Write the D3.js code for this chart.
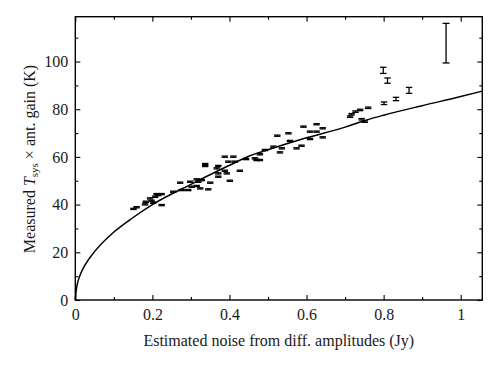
<!DOCTYPE html>
<html><head><meta charset="utf-8">
<script src="https://cdn.jsdelivr.net/npm/d3@7"></script>
<style>body{margin:0;background:#fff}svg{display:block}</style>
</head><body>
<svg id="c" width="500" height="368"></svg>
<script>
// data
const ptX = [0.151,0.159,0.181,0.183,0.194,0.198,0.202,0.207,0.215,0.211,0.224,0.224,0.254,0.272,0.276,0.293,0.298,0.302,0.315,0.315,0.319,0.324,0.328,0.337,0.337,0.345,0.35,0.371,0.367,0.371,0.371,0.388,0.388,0.393,0.397,0.401,0.41,0.414,0.427,0.443,0.466,0.470,0.479,0.479,0.492,0.514,0.524,0.531,0.536,0.553,0.557,0.574,0.587,0.592,0.609,0.609,0.626,0.626,0.642,0.642,0.713,0.717,0.727,0.739,0.743,0.751,0.76,0.801,0.799,0.81,0.832,0.866,0.962];
const ptY = [38.2,38.9,40.1,41.2,42.6,41.6,40.8,43.3,44.0,44.4,44.4,39.8,45.4,49.2,46.1,46.1,49.6,47.5,47.8,50.6,49.6,46.8,50.3,57.0,56.2,46.4,49.2,56.2,55.2,53.1,51.7,60.1,54.2,53.1,58.0,50.0,60.1,58.0,54.2,59.1,59.4,58.7,61.1,58.7,62.9,64.3,68.9,61.9,63.6,69.9,66.7,63.6,64.7,72.7,70.6,67.5,73.7,70.6,72.0,68.2,76.9,77.9,79.0,79.7,75.8,74.8,80.6,82.5,96.3,92.0,84.3,87.9,107.7];
const ptErr = [0.25,0.25,0.25,0.25,0.25,0.25,0.25,0.25,0.25,0.25,0.25,0.25,0.25,0.25,0.25,0.25,0.25,0.25,0.25,0.25,0.25,0.25,0.25,0.25,0.25,0.25,0.25,0.25,0.25,0.25,0.25,0.25,0.25,0.25,0.25,0.25,0.25,0.25,0.25,0.25,0.25,0.25,0.25,0.25,0.25,0.25,0.25,0.25,0.25,0.25,0.25,0.25,0.25,0.25,0.25,0.25,0.25,0.25,0.25,0.25,0.3,0.3,0.3,0.3,0.3,0.3,0.3,0.55,1.3,1.1,0.7,1.25,8.3];
const fitX = [0,0.002,0.005,0.0125,0.025,0.05,0.1,0.15,0.2,0.3,0.4,0.453,0.5,0.6,0.7,0.756,0.8,0.9,1.0,1.056];
const fitY = [0,3.5,6.5,10.5,14.6,20.3,28.5,34.6,40.0,48.5,56.5,60.5,63.0,68.0,72.5,75.5,77.5,81.5,85.3,87.6];
const xTicks = [0,0.2,0.4,0.6,0.8,1];
const xMinor = [0.1,0.3,0.5,0.7,0.9];
const yTicks = [0,20,40,60,80,100];
const yMinor = [10,30,50,70,90,110];
const xTitle = "Estimated noise from diff. amplitudes (Jy)";

const svg = d3.select("#c");
const x = d3.scaleLinear([0,1.056],[75.3,482.3]);
const y = d3.scaleLinear([0,118.8],[300,16.7]);
const font = "'Liberation Serif', 'DejaVu Serif', serif";
const fmt = d3.format("~g");
const fs = 16;

function styleAxis(g){
  g.select(".domain").remove();
  g.selectAll("line").attr("stroke","#000").attr("stroke-width",1.1);
  g.selectAll("text").attr("font-family",font).attr("font-size",fs).attr("fill","#1a1a1a");
}
// bottom
svg.append("g").attr("transform","translate(0,300)")
  .call(d3.axisBottom(x).tickValues(xTicks).tickFormat(fmt).tickSize(-5).tickPadding(9)).call(styleAxis);
svg.append("g").attr("transform","translate(0,300)")
  .call(d3.axisBottom(x).tickValues(xMinor).tickFormat("").tickSize(-3)).call(styleAxis);
// top
svg.append("g").attr("transform","translate(0,16.7)")
  .call(d3.axisTop(x).tickValues(xTicks).tickFormat("").tickSize(-5)).call(styleAxis);
svg.append("g").attr("transform","translate(0,16.7)")
  .call(d3.axisTop(x).tickValues(xMinor).tickFormat("").tickSize(-3)).call(styleAxis);
// left
svg.append("g").attr("transform","translate(75.3,0)")
  .call(d3.axisLeft(y).tickValues(yTicks).tickFormat(fmt).tickSize(-5).tickPadding(7)).call(styleAxis);
svg.append("g").attr("transform","translate(75.3,0)")
  .call(d3.axisLeft(y).tickValues(yMinor).tickFormat("").tickSize(-3)).call(styleAxis);
// right
svg.append("g").attr("transform","translate(482.3,0)")
  .call(d3.axisRight(y).tickValues(yTicks).tickFormat("").tickSize(-5)).call(styleAxis);
svg.append("g").attr("transform","translate(482.3,0)")
  .call(d3.axisRight(y).tickValues(yMinor).tickFormat("").tickSize(-3)).call(styleAxis);

// frame
svg.append("rect").attr("x",x(0)).attr("y",y(118.8)).attr("width",x(1.056)-x(0)).attr("height",y(0)-y(118.8))
  .attr("fill","none").attr("stroke","#000").attr("stroke-width",1.4);

// fit curve
const fit = fitX.map((v,i)=>[v,fitY[i]]);
svg.append("path").datum(fit)
  .attr("d", d3.line().x(d=>x(d[0])).y(d=>y(d[1])).curve(d3.curveMonotoneX))
  .attr("fill","none").attr("stroke","#000").attr("stroke-width",1.5);

// error bars
const pts = ptX.map((v,i)=>({x:v,y:ptY[i],e:ptErr[i]}));
const eb = svg.append("g").attr("stroke","#000").attr("stroke-width",1.3);
pts.forEach(p=>{
  const cx = x(p.x), cw = p.e>5 ? 3.5 : 3.2;
  const y1 = y(p.y+p.e), y2 = y(p.y-p.e);
  eb.append("line").attr("x1",cx).attr("x2",cx).attr("y1",y1).attr("y2",y2);
  eb.append("line").attr("x1",cx-cw).attr("x2",cx+cw).attr("y1",y1).attr("y2",y1);
  eb.append("line").attr("x1",cx-cw).attr("x2",cx+cw).attr("y1",y2).attr("y2",y2);
});

// axis titles
svg.append("text").attr("x",278.8).attr("y",346).attr("text-anchor","middle")
  .attr("font-family",font).attr("font-size",fs).attr("fill","#1a1a1a").text(xTitle);
const yt = svg.append("text").attr("transform","translate(35,159) rotate(-90)").attr("text-anchor","middle")
  .attr("font-family",font).attr("font-size",fs).attr("fill","#1a1a1a");
yt.append("tspan").text("Measured ");
yt.append("tspan").attr("font-style","italic").text("T");
yt.append("tspan").attr("font-size",11).attr("dy",3).text("sys");
yt.append("tspan").attr("dy",-3).text(" \u00d7 ant. gain (K)");
</script>
</body></html>
